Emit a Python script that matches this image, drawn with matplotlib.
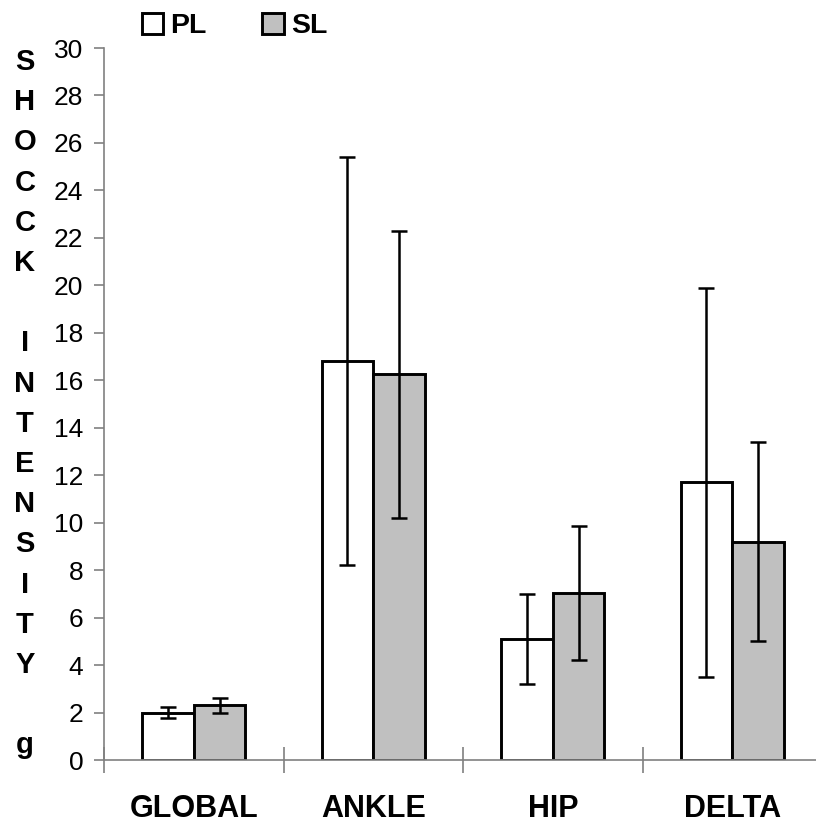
import numpy as np
import matplotlib
matplotlib.use('Agg')
import matplotlib.pyplot as plt

plt.rcParams['font.family'] = ['Liberation Sans', 'DejaVu Sans']

# datos
categorias = ['GLOBAL', 'ANKLE', 'HIP', 'DELTA']
pl_media = [2.0, 16.8, 5.1, 11.7]
pl_sd = [0.25, 8.6, 1.9, 8.2]
sl_media = [2.3, 16.25, 7.05, 9.2]
sl_sd = [0.33, 6.05, 2.83, 4.2]
yticks = list(range(0, 31, 2))
letras_ylabel = list('SHOCCK') + [''] + list('INTENSITY') + [''] + ['g']

W, H = 816, 825
fig = plt.figure(figsize=(W / 100, H / 100), dpi=100)
ax = fig.add_axes([104 / W, 1 - 760 / H, 718 / W, 712 / H])

x = np.arange(len(categorias)) + 0.5
ancho = 0.287
gris_eje = '#808080'

ax.bar(x - ancho / 2, pl_media, ancho, color='white', edgecolor='black', linewidth=2.1, label='PL', zorder=2)
ax.bar(x + ancho / 2, sl_media, ancho, color='#c0c0c0', edgecolor='black', linewidth=2.1, label='SL', zorder=2)
ax.errorbar(x - ancho / 2, pl_media, yerr=pl_sd, fmt='none', ecolor='black', elinewidth=1.8, capsize=5.8, capthick=1.8, zorder=3)
ax.errorbar(x + ancho / 2, sl_media, yerr=sl_sd, fmt='none', ecolor='black', elinewidth=1.8, capsize=5.8, capthick=1.8, zorder=3)

ax.set_xlim(0, len(categorias))
ax.set_ylim(0, 30)
ax.set_yticks(yticks)
ax.set_yticklabels([str(v) for v in yticks], fontsize=19)
ax.tick_params(axis='y', direction='out', length=7, width=1.2, color=gris_eje, pad=8)

# ticks de separacion entre categorias
ax.set_xticks(np.arange(len(categorias) + 1))
ax.set_xticklabels([])
ax.tick_params(axis='x', which='major', direction='inout', length=19, width=1.2, color=gris_eje)
ax.set_xticks(x, minor=True)
ax.set_xticklabels(categorias, minor=True, fontsize=22, fontweight='bold')
ax.tick_params(axis='x', which='minor', length=0, pad=24.5)

for lado in ['top', 'right']:
    ax.spines[lado].set_visible(False)
for lado in ['left', 'bottom']:
    ax.spines[lado].set_color(gris_eje)
    ax.spines[lado].set_linewidth(1.2)

# etiqueta vertical letra por letra
for i, letra in enumerate(letras_ylabel):
    yb = 60 + i * 40.2 + 10
    fig.text(25 / W, 1 - yb / H, letra, ha='center', va='baseline', fontsize=21, fontweight='bold')

fig.legend(loc='upper left', bbox_to_anchor=(142 / W, 1 - 13 / H), ncol=2, frameon=False,
           prop={'size': 20.5, 'weight': 'bold'}, handlelength=0.75, handleheight=0.75,
           handletextpad=0.25, columnspacing=1.95, borderpad=0, borderaxespad=0)

fig.savefig('out.png', dpi=100)
